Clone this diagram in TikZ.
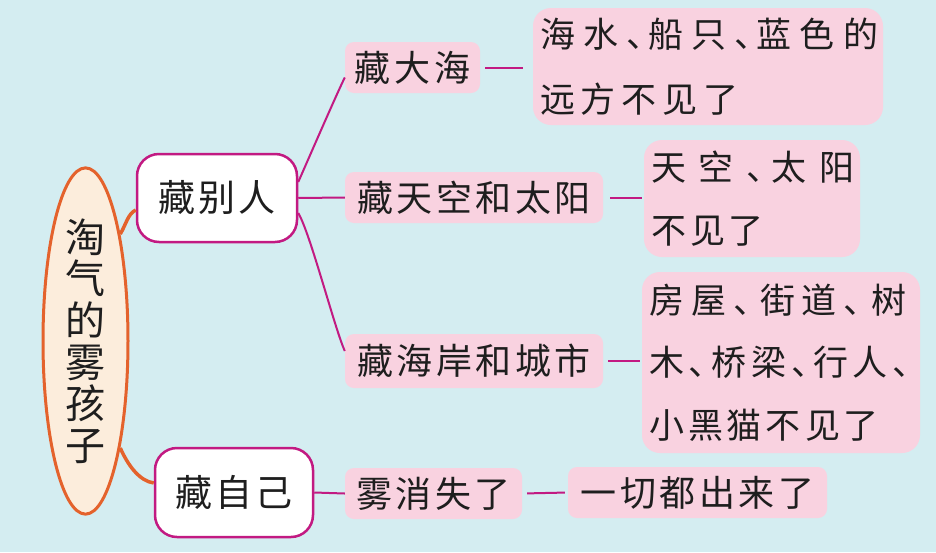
\documentclass[tikz,border=0pt]{standalone}
\usepackage{fontspec}
\setmainfont{Noto Sans CJK SC}
\newfontfamily\cjkA[LetterSpace=10]{Noto Sans CJK SC}
\newfontfamily\cjkB[LetterSpace=8]{Noto Sans CJK SC}
\usetikzlibrary{shapes.geometric}
% fixed-pitch setting of a line of characters: \spaced{pitch}{pause width}{text}
\newlength\zipitch
\newlength\dunw
\def\dunchar{、}
\newcommand\spaced[3]{\setlength\zipitch{#1}\setlength\dunw{#2}\spacedaux#3\relax}
\def\spacedaux#1{\ifx#1\relax\else\spacedone{#1}\expandafter\spacedaux\fi}
\def\spacedone#1{\def\tmpch{#1}\ifx\tmpch\dunchar\makebox[\dunw][l]{#1}\else\makebox[\zipitch][l]{#1}\fi}
\definecolor{bg}{HTML}{D4EDF1}
\definecolor{mag}{HTML}{C21A82}
\definecolor{pinkf}{HTML}{F9D2E0}
\definecolor{orng}{HTML}{E4622C}
\definecolor{cream}{HTML}{FCEDDC}
\definecolor{ink}{HTML}{1E1E1E}
\tikzset{
  titlenode/.style={ellipse, draw=orng, line width=3pt, fill=cream, inner sep=0pt,
    minimum width=85pt, minimum height=328pt, align=center, text=ink,
    font=\fontsize{40}{41.6}\selectfont},
  lvlone/.style={draw=mag, line width=2.5pt, fill=white, rounded corners=22pt,
    inner sep=0pt, text=ink, font=\fontsize{37}{44}\selectfont\cjkB},
  pinkbox/.style={fill=pinkf, rounded corners=9pt, inner sep=0pt, text=ink,
    minimum height=51pt, font=\fontsize{36}{44}\selectfont\cjkA},
  detail/.style={fill=pinkf, rounded corners=18pt, inner xsep=7pt, inner ysep=0pt,
    text=ink, align=left},
  magline/.style={draw=mag, line width=2pt},
  orline/.style={draw=orng, line width=3.5pt}
}
\begin{document}
\begin{tikzpicture}[x=1pt,y=-1pt]
\fill[bg] (0,0) rectangle (936,552);
\useasboundingbox (0,0) rectangle (936,552);

% nodes
\node[titlenode] (title) at (85.5,341) {淘\\气\\的\\雾\\孩\\子};
\node[lvlone, minimum width=160pt, minimum height=88pt] (bieren) at (217,198) {藏别人};
\node[lvlone, minimum width=158pt, minimum height=89pt] (ziji) at (234,492.5) {藏自己};

\node[pinkbox, minimum width=135pt] (dahai) at (412.5,67.5) {藏大海};
\node[pinkbox, minimum width=258pt] (tiankong) at (474,197.5) {藏天空和太阳};
\node[pinkbox, minimum width=258pt, minimum height=54pt] (haian) at (474,361) {藏海岸和城市};
\node[pinkbox, minimum width=177pt] (xiaoshi) at (433.5,493.5) {雾消失了};
\node[pinkbox, minimum width=259pt] (yiqie) at (697.5,492.5) {一切都出来了};

\node[detail, text width=336pt, minimum height=117pt, font=\fontsize{35}{65}\selectfont] (d1) at (708,66.5)
  {\spaced{43.5pt}{21pt}{海水、船只、蓝色的}\\\spaced{40.8pt}{21pt}{远方不见了}};
\node[detail, text width=202pt, minimum height=117pt, font=\fontsize{35}{63}\selectfont] (d2) at (752,198.5)
  {\spaced{48pt}{24pt}{天空、太阳}\\\spaced{39pt}{24pt}{不见了}};
\node[detail, text width=264pt, minimum height=181pt, font=\fontsize{35}{62.5}\selectfont] (d3) at (781,362.5)
  {\spaced{42pt}{27pt}{房屋、街道、树}\\\spaced{40pt}{22pt}{木、桥梁、行人、}\\\spaced{39pt}{22pt}{小黑猫不见了}};

% orange connectors
\draw[orline] (title.72) .. controls +(6,-10) and +(-8,4) .. ([yshift=-12pt]bieren.west);
\draw[orline] (title.-72) .. controls +(8,18) and +(-14,-2) .. ([yshift=9.5pt]ziji.west);

% magenta connectors
\draw[magline] ([yshift=16pt]bieren.east) .. controls +(8,-18) and +(-8,16) .. ([yshift=-10pt]dahai.west);
\draw[magline] (bieren.east) -- (tiankong.west);
\draw[magline] ([yshift=-15pt]bieren.east) .. controls +(12,20) and +(-10,-22) .. ([yshift=10pt]haian.west);
\draw[magline] (ziji.east) -- (xiaoshi.west);

\draw[magline, shorten <=5pt, shorten >=10pt] (dahai.east) -- (d1.west |- dahai.east);
\draw[magline, shorten <=7pt, shorten >=2pt] (tiankong.east) -- (d2.west |- tiankong.east);
\draw[magline, shorten <=5pt, shorten >=2pt] (haian.east) -- (d3.west |- haian.east);
\draw[magline, shorten <=5pt, shorten >=3pt] (xiaoshi.east) -- (yiqie.west);
\end{tikzpicture}
\end{document}
